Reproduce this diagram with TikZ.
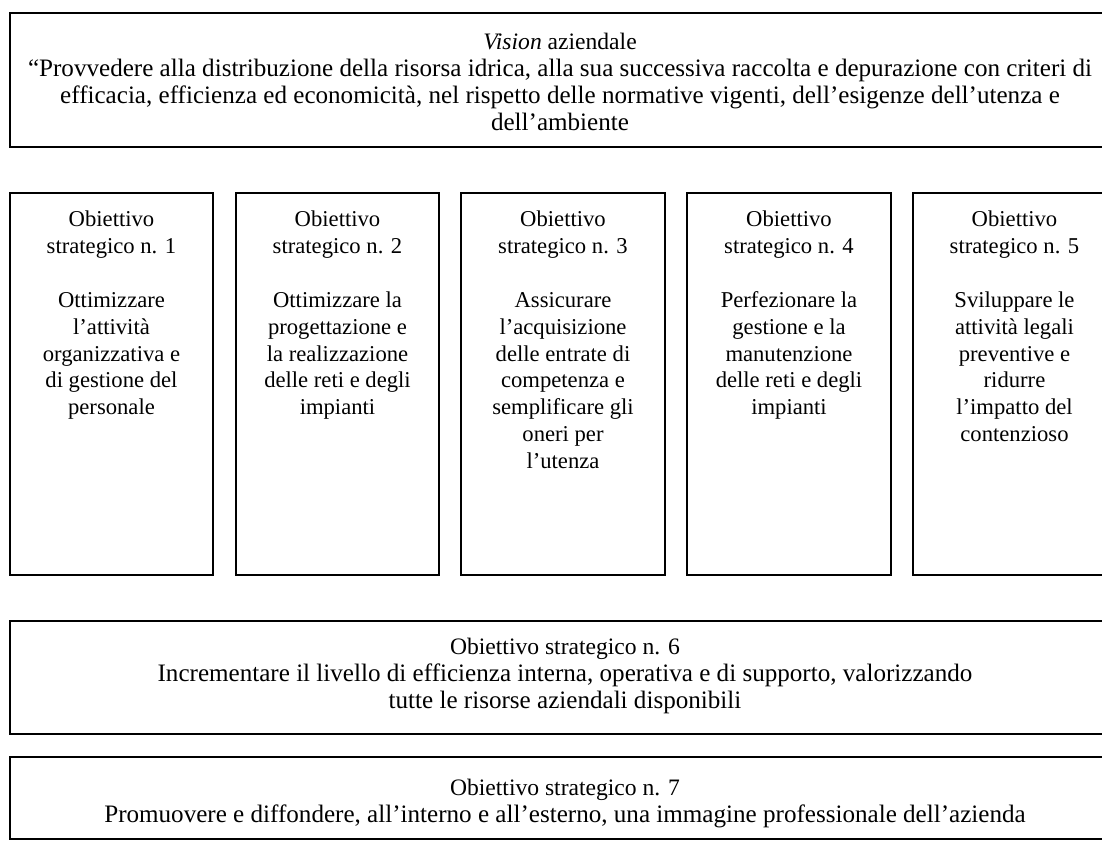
\documentclass[tikz,border=0pt]{standalone}
\usepackage{fontspec}
\setmainfont{Liberation Serif}
\usetikzlibrary{fit}
\newcommand{\rowtitle}[1]{{\fontsize{12.5}{14.3}\selectfont #1}}
\begin{document}
\begin{tikzpicture}[x=0.53pt,y=-0.53pt,
  box/.style={draw, line width=1pt, inner sep=0pt},
  txt/.style={align=center, inner sep=0pt, anchor=north,
    font=\fontsize{12}{14.3}\selectfont},
  widetxt/.style={txt, font=\fontsize{13.3}{14.3}\selectfont},
]
\useasboundingbox (0,0) rectangle (1102,840);

% vision box
\node[box, fit={(10,12.7) (1106,147)}] (vision) {};
\node[widetxt] (visiontext) at (560,33) {\rowtitle{\textit{Vision} aziendale}\\
“Provvedere alla distribuzione della risorsa idrica, alla sua successiva raccolta e depurazione con criteri di\\
efficacia, efficienza ed economicità, nel rispetto delle normative vigenti, dell’esigenze dell’utenza e\\
dell’ambiente};

% five strategic objectives
\node[box, fit={(10,192.7) (213,575)}] (o1) {};
\node[box, fit={(236,192.7) (439,575)}] (o2) {};
\node[box, fit={(461,192.7) (665,575)}] (o3) {};
\node[box, fit={(687,192.7) (891,575)}] (o4) {};
\node[box, fit={(913,192.7) (1116,575)}] (o5) {};

\node[txt] (t1) at (o1.north |- 0,210) {Obiettivo\\strategico n. 1\\\mbox{}\\Ottimizzare\\l’attività\\organizzativa e\\di gestione del\\personale};
\node[txt] (t2) at (o2.north |- 0,210) {Obiettivo\\strategico n. 2\\\mbox{}\\Ottimizzare la\\progettazione e\\la realizzazione\\delle reti e degli\\impianti};
\node[txt] (t3) at (o3.north |- 0,210) {Obiettivo\\strategico n. 3\\\mbox{}\\Assicurare\\l’acquisizione\\delle entrate di\\competenza e\\semplificare gli\\oneri per\\l’utenza};
\node[txt] (t4) at (o4.north |- 0,210) {Obiettivo\\strategico n. 4\\\mbox{}\\Perfezionare la\\gestione e la\\manutenzione\\delle reti e degli\\impianti};
\node[txt] (t5) at (o5.north |- 0,210) {Obiettivo\\strategico n. 5\\\mbox{}\\Sviluppare le\\attività legali\\preventive e\\ridurre\\l’impatto del\\contenzioso};

% objective 6
\node[box, fit={(10,621) (1120,734)}] (o6) {};
\node[widetxt] (t6) at (565,638) {\rowtitle{Obiettivo strategico n. 6}\\
Incrementare il livello di efficienza interna, operativa e di supporto, valorizzando\\
tutte le risorse aziendali disponibili};

% objective 7
\node[box, fit={(10,757) (1120,839)}] (o7) {};
\node[widetxt] (t7) at (565,779) {\rowtitle{Obiettivo strategico n. 7}\\
Promuovere e diffondere, all’interno e all’esterno, una immagine professionale dell’azienda};
\end{tikzpicture}
\end{document}
